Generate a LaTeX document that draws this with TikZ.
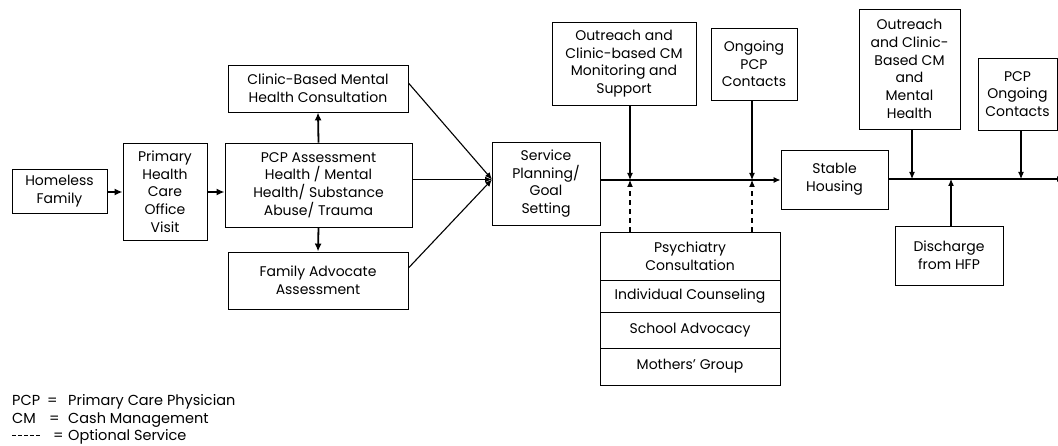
\documentclass[tikz,border=0pt]{standalone}
\usepackage{fontspec}
\setmainfont{Poppins}
\usetikzlibrary{arrows.meta}
\tikzset{
  box/.style={draw, line width=0.9pt, inner sep=0pt, align=center, font=\fontsize{14}{17.7}\selectfont},
  conn/.style={line width=1.1pt, -{Latex[length=7pt,width=6pt]}},
  thick conn/.style={line width=1.8pt, -{Latex[length=8pt,width=7pt]}},
  opt/.style={line width=1.1pt, dash pattern=on 5pt off 4pt, -{Latex[length=7pt,width=6pt]}},
  legend/.style={anchor=base west, inner sep=0pt, font=\fontsize{14.5}{15}\selectfont},
}
\newlength{\legrest}
\newcommand{\legrow}[3]{\setlength{\legrest}{56pt}\addtolength{\legrest}{-#1}\makebox[#1][l]{#2}\makebox[\legrest][l]{=}#3}
\newcommand{\dsh}{\rule[3.8pt]{3.6pt}{1pt}}
\newcommand{\legdashes}{\dsh\hspace{2.4pt}\dsh\hspace{2.4pt}\dsh\hspace{2.4pt}\dsh\hspace{2.4pt}\dsh}
\begin{document}
\begin{tikzpicture}[x=1pt,y=-1pt]
\clip (0,0) rectangle (1058,446);
\fill[white] (0,0) rectangle (1058,446);
% boxes
\node[box, minimum width=95, minimum height=44] (hf) at (59.5,191) {Homeless\\Family};
\node[box, minimum width=84, minimum height=97] (phc) at (165,191.5) {Primary\\Health\\Care\\Office\\Visit};
\node[box, minimum width=187, minimum height=84] (pcp) at (318.5,185) {PCP Assessment\\Health / Mental\\Health/ Substance\\Abuse/ Trauma};
\node[box, minimum width=180, minimum height=47] (cbm) at (318,88.5) {Clinic-Based Mental\\Health Consultation};
\node[box, minimum width=180, minimum height=57] (faa) at (318,280.5) {Family Advocate\\Assessment};
\node[box, minimum width=108, minimum height=83] (sp) at (546,183.5) {Service\\Planning/\\Goal\\Setting};
\node[box, minimum width=144, minimum height=83] (oc) at (624,63.5) {Outreach and\\Clinic-based CM\\Monitoring and\\Support};
\node[box, minimum width=86, minimum height=72] (opc) at (754,64) {Ongoing\\PCP\\Contacts};
\node[box, minimum width=180, minimum height=48] (psy) at (690,256) {Psychiatry\\Consultation};
\node[box, minimum width=180, minimum height=32] (ic) at (690,296) {Individual Counseling};
\node[box, minimum width=180, minimum height=36] (sa) at (690,330) {School Advocacy};
\node[box, minimum width=180, minimum height=37] (mg) at (690,366.5) {Mothers' Group};
\node[box, minimum width=107, minimum height=59] (sh) at (834.5,179.5) {Stable\\Housing};
\node[box, minimum width=101, minimum height=120] (ocm) at (909.5,69) {Outreach\\and Clinic-\\Based CM\\and\\Mental\\Health};
\node[box, minimum width=79, minimum height=72] (ppc) at (1017.5,94) {PCP\\Ongoing\\Contacts};
\node[box, minimum width=108, minimum height=59] (dh) at (949,255.5) {Discharge\\from HFP};
% junction coordinates
\coordinate (conv) at (492,179.5);
\coordinate (j1) at (630,180);
\coordinate (j2) at (752,180);
\coordinate (k1) at (912,179);
\coordinate (k2) at (951,179);
\coordinate (k3) at (1021,179);
\coordinate (rend) at (1064,179);
% connectors
\draw[thick conn] (hf.east |- 0,192) -- (phc.west |- 0,192);
\draw[thick conn] (phc.east |- 0,192) -- (pcp.west |- 0,192);
\draw[thick conn] (pcp.north) -- (cbm.south);
\draw[thick conn] (pcp.south) -- (faa.north);
\draw[conn] (cbm.east) ++(0,-5.5) -- (conv);
\draw[conn] (pcp.east |- conv) -- (conv);
\draw[conn] (faa.east) ++(0,-12.5) -- (conv);
\draw[conn] (sp.east |- j1) -- (sh.west |- j1);
\draw[conn] (oc.south -| j1) -- (j1);
\draw[conn] (opc.south -| j2) -- (j2);
\draw[opt] (psy.north -| j1) -- (j1);
\draw[opt] (psy.north -| j2) -- (j2);
\draw[conn] (sh.east |- k1) -- (rend);
\draw[conn] (ocm.south -| k1) -- (k1);
\draw[conn] (ppc.south -| k3) -- (k3);
\draw[conn] (dh.north -| k2) -- (k2);
% legend
\node[legend] (l1) at (12,406) {\legrow{35pt}{PCP}{Primary Care Physician}};
\node[legend] (l2) at (12,423) {\legrow{37pt}{CM}{Cash Management}};
\node[legend] (l3) at (12,440) {\legrow{41pt}{\legdashes}{Optional Service}};
\end{tikzpicture}
\end{document}
